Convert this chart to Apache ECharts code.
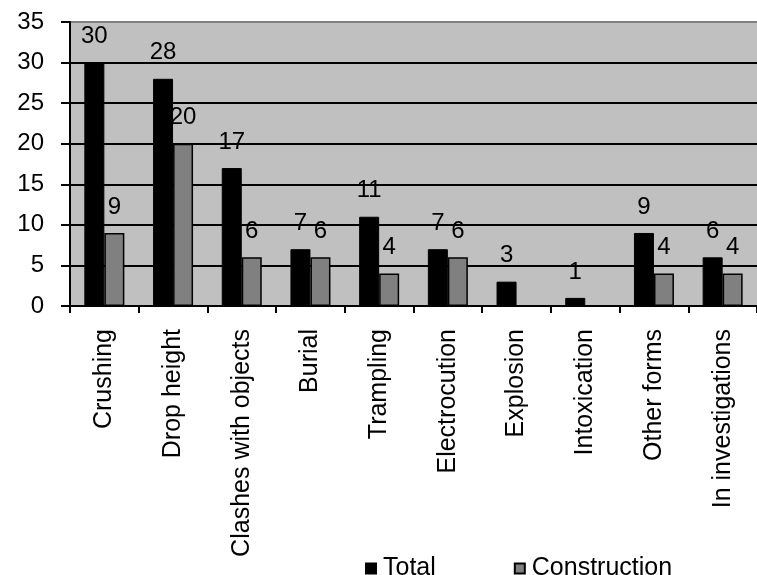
<!DOCTYPE html>
<html>
<head>
<meta charset="utf-8">
<script src="https://cdn.jsdelivr.net/npm/echarts@6/dist/echarts.min.js"></script>
<style>
  html, body { margin: 0; padding: 0; background: #fff; }
  #chart { width: 757px; height: 575px; }
</style>
</head>
<body>
<div id="chart"></div>
<script>
// Fatal accident causes: all sectors vs. construction
var categories = ['Crushing', 'Drop height', 'Clashes with objects', 'Burial', 'Trampling',
  'Electrocution', 'Explosion', 'Intoxication', 'Other forms', 'In investigations'];
var totalValues = [30, 28, 17, 7, 11, 7, 3, 1, 9, 6];
var constructionValues = [9, 20, 6, 6, 4, 6, null, null, 4, 4];
var yTicks = [0, 5, 10, 15, 20, 25, 30, 35];

var FONT = 'Liberation Sans, Arial, sans-serif';
var FS = 24;

var chart = echarts.init(document.getElementById('chart'), null, { renderer: 'canvas' });

var labelStyle = {
  show: true,
  position: 'top',
  distance: 14,
  color: '#000',
  fontFamily: FONT,
  fontSize: FS
};

chart.setOption({
  animation: false,
  backgroundColor: '#fff',
  grid: {
    left: 70,
    top: 22,
    width: 692,
    bottom: 269,
    show: true,
    backgroundColor: '#C0C0C0',
    borderWidth: 0
  },
  legend: {
    left: 360,
    top: 551,
    itemWidth: 10,
    itemHeight: 10,
    itemGap: 78,
    icon: 'rect',
    textStyle: { fontFamily: FONT, fontSize: 25, color: '#000', padding: [0, 0, 0, 2] },
    data: ['Total', 'Construction']
  },
  xAxis: {
    type: 'category',
    data: categories,
    boundaryGap: true,
    axisLine: { show: true, lineStyle: { color: '#000', width: 2 } },
    axisTick: { show: true, length: 7, inside: false, lineStyle: { color: '#000', width: 2 } },
    axisLabel: {
      rotate: 90,
      interval: 0,
      margin: 23,
      color: '#000',
      fontFamily: FONT,
      fontSize: 25
    },
    splitLine: { show: false }
  },
  yAxis: {
    type: 'value',
    min: yTicks[0],
    max: yTicks[yTicks.length - 1],
    interval: 5,
    axisLine: { show: true, lineStyle: { color: '#000', width: 2 } },
    axisTick: { show: true, length: 9, inside: false, lineStyle: { color: '#000', width: 2 } },
    axisLabel: {
      margin: 26,
      color: '#000',
      fontFamily: FONT,
      fontSize: FS
    },
    splitLine: {
      show: true,
      lineStyle: {
        color: ['#000', '#000', '#000', '#000', '#000', '#000', '#000', '#808080'],
        width: 2
      }
    }
  },
  series: [
    {
      name: 'Total',
      type: 'bar',
      data: totalValues,
      barWidth: 20,
      barGap: '0%',
      itemStyle: { color: '#000', borderColor: '#000', borderWidth: 1 },
      label: labelStyle
    },
    {
      name: 'Construction',
      type: 'bar',
      data: constructionValues,
      barWidth: 20,
      barGap: '0%',
      itemStyle: { color: '#808080', borderColor: '#000', borderWidth: 1.5 },
      label: labelStyle
    }
  ]
});
</script>
</body>
</html>
